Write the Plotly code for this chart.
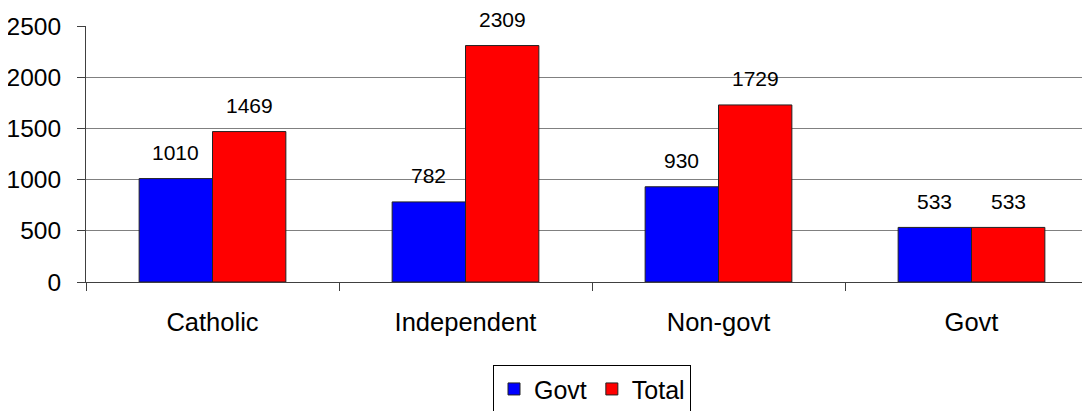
import plotly.graph_objects as go

categories = ["Catholic", "Independent", "Non-govt", "Govt"]
govt = [1010, 782, 930, 533]
total = [1469, 2309, 1729, 533]
series_names = ["Govt", "Total"]
y_ticks = [0, 500, 1000, 1500, 2000, 2500]

FONT = "Liberation Sans, Arial, sans-serif"

fig = go.Figure()
fig.add_trace(go.Bar(x=categories, y=govt, name=series_names[0],
                     marker=dict(color="#0000FF", line=dict(color="#222222", width=1))))
fig.add_trace(go.Bar(x=categories, y=total, name=series_names[1],
                     marker=dict(color="#FF0000", line=dict(color="#222222", width=1))))

annotations = []
for vals, shift in ((govt, -37), (total, 37)):
    for c, v in zip(categories, vals):
        annotations.append(dict(x=c, y=v, text=str(v), showarrow=False,
                                xshift=shift, yshift=26, yanchor="middle",
                                font=dict(family=FONT, size=21, color="#000000")))

fig.update_layout(
    width=1090, height=411,
    margin=dict(l=78, r=0, t=18, b=137),
    paper_bgcolor="white", plot_bgcolor="white",
    barmode="group", bargap=0.42, bargroupgap=0,
    font=dict(family=FONT, color="#000000"),
    annotations=annotations,
    showlegend=True,
    legend=dict(orientation="h", x=0.5, xanchor="center", y=-0.325, yanchor="top",
                bordercolor="#000000", borderwidth=1, bgcolor="white",
                font=dict(family=FONT, size=25, color="#000000"),
                itemwidth=30, traceorder="normal"),
    xaxis=dict(range=[-0.5, 3.5], showline=True, linecolor="#404040", linewidth=1,
               ticks="outside", tickson="boundaries", ticklen=8, tickcolor="#404040",
               showgrid=False, ticklabelstandoff=17,
               tickfont=dict(family=FONT, size=25.5, color="#000000")),
    yaxis=dict(range=[0, 2500], tickvals=y_ticks, showline=True, linecolor="#404040",
               linewidth=1, ticks="outside", ticklen=8, tickcolor="#404040",
               showgrid=True, gridcolor="#808080", gridwidth=1, zeroline=False,
               ticklabelstandoff=11,
               tickfont=dict(family=FONT, size=24.5, color="#000000")),
)

fig.write_html("out.html")
